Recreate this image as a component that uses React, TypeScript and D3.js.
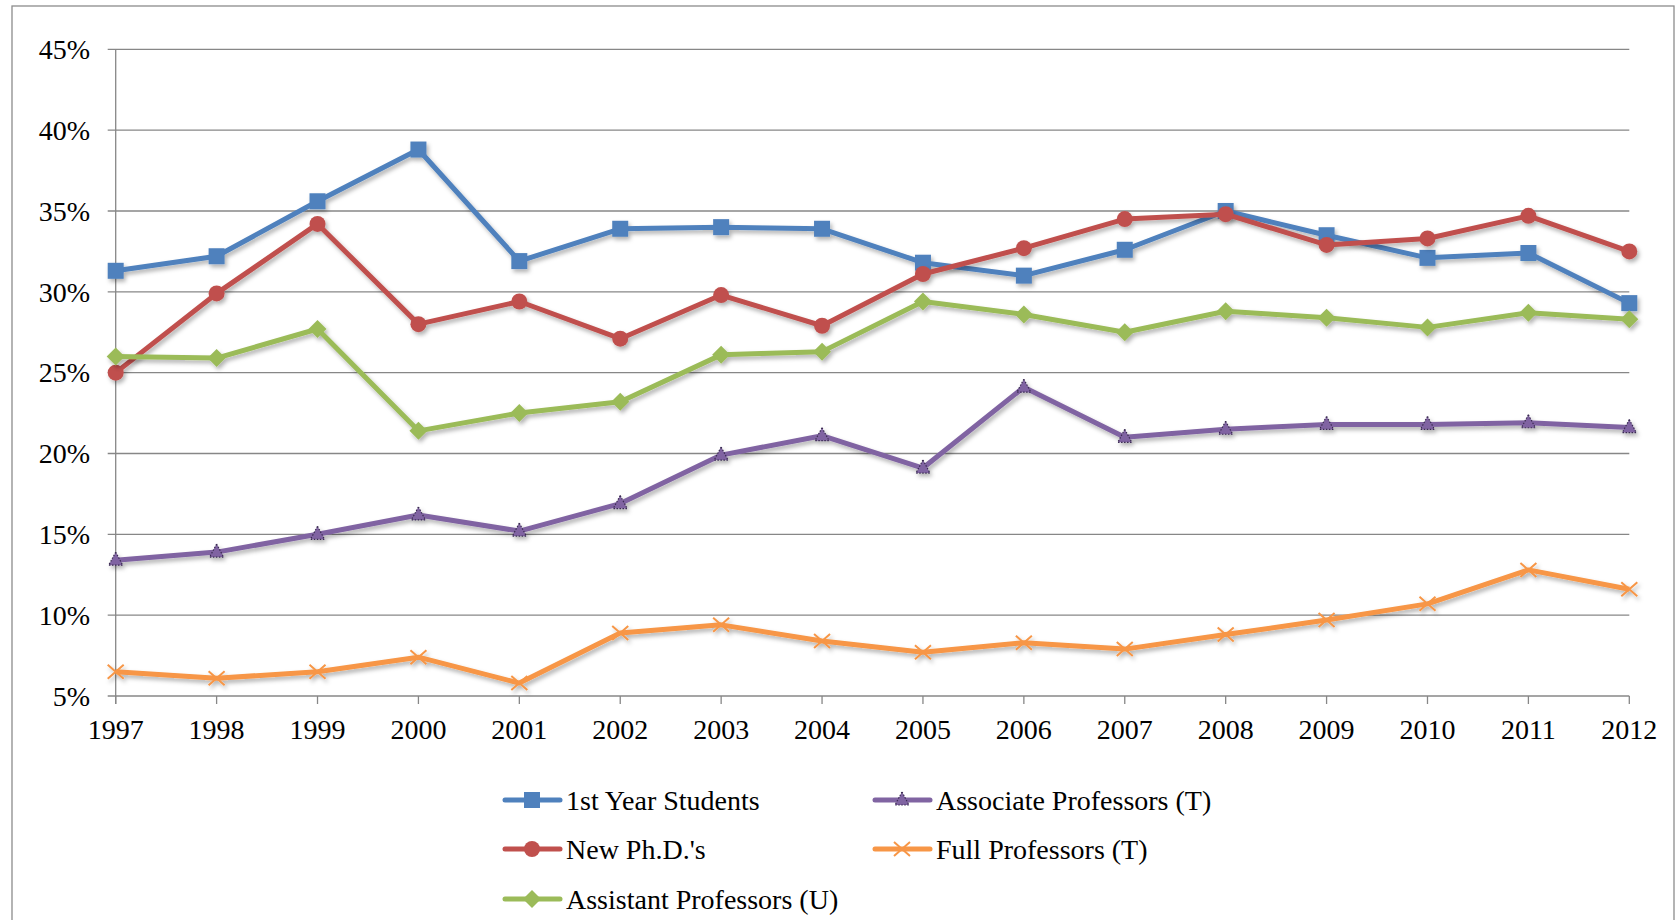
import { useMemo } from "react";
import * as d3 from "d3";

// Years on the x axis
const years = [1997, 1998, 1999, 2000, 2001, 2002, 2003, 2004, 2005, 2006, 2007, 2008, 2009, 2010, 2011, 2012];

// Percent values per series
const firstYear = [31.3, 32.2, 35.6, 38.8, 31.9, 33.9, 34.0, 33.9, 31.8, 31.0, 32.6, 35.0, 33.5, 32.1, 32.4, 29.3];
const newPhds = [25.0, 29.9, 34.2, 28.0, 29.4, 27.1, 29.8, 27.9, 31.1, 32.7, 34.5, 34.8, 32.9, 33.3, 34.7, 32.5];
const assistantU = [26.0, 25.9, 27.7, 21.4, 22.5, 23.2, 26.1, 26.3, 29.4, 28.6, 27.5, 28.8, 28.4, 27.8, 28.7, 28.3];
const associateT = [13.4, 13.9, 15.0, 16.2, 15.2, 16.9, 19.9, 21.1, 19.1, 24.1, 21.0, 21.5, 21.8, 21.8, 21.9, 21.6];
const fullT = [6.5, 6.1, 6.5, 7.4, 5.8, 8.9, 9.4, 8.4, 7.7, 8.3, 7.9, 8.8, 9.7, 10.7, 12.8, 11.6];

const yTicks = [5, 10, 15, 20, 25, 30, 35, 40, 45];

type Marker = "square" | "circle" | "diamond" | "triangle" | "x";

interface Series {
  name: string;
  values: number[];
  color: string;
  marker: Marker;
}

const series: Series[] = [
  { name: "1st Year Students", values: firstYear, color: "#4F81BD", marker: "square" },
  { name: "New Ph.D.'s", values: newPhds, color: "#C0504D", marker: "circle" },
  { name: "Assistant Professors (U)", values: assistantU, color: "#9BBB59", marker: "diamond" },
  { name: "Associate Professors (T)", values: associateT, color: "#8064A2", marker: "triangle" },
  { name: "Full Professors (T)", values: fullT, color: "#F79646", marker: "x" },
];

// legend is two columns, filled column first like Excel does it
const legendOrder = [
  ["1st Year Students", "New Ph.D.'s", "Assistant Professors (U)"],
  ["Associate Professors (T)", "Full Professors (T)"],
];

const W = 1675;
const H = 920;
const FONT = "'Liberation Serif', 'Times New Roman', serif";

function MarkerShape({ kind, color, x, y }: { kind: Marker; color: string; x: number; y: number }) {
  switch (kind) {
    case "square":
      return <rect x={x - 8} y={y - 8} width={16} height={16} fill={color} />;
    case "circle":
      return <circle cx={x} cy={y} r={8} fill={color} />;
    case "diamond":
      return <path d={`M${x},${y - 9}L${x + 9},${y}L${x},${y + 9}L${x - 9},${y}Z`} fill={color} />;
    case "triangle":
      return (
        <path
          d={`M${x},${y - 8}L${x + 7},${y + 5}L${x - 7},${y + 5}Z`}
          fill={color}
          stroke="#3b2c52"
          strokeWidth={1.2}
          strokeDasharray="1.5,1.5"
        />
      );
    case "x":
      return (
        <path
          d={`M${x - 8},${y - 7}L${x + 8},${y + 7}M${x - 8},${y + 7}L${x + 8},${y - 7}`}
          stroke={color}
          strokeWidth={2}
          fill="none"
        />
      );
  }
}

export default function App() {
  const x = useMemo(() => d3.scaleLinear().domain([1997, 2012]).range([115.7, 1629.3]), []);
  const y = useMemo(() => d3.scaleLinear().domain([5, 45]).range([696, 49.3]), []);

  const line = d3
    .line<number>()
    .x((_, i) => x(years[i]))
    .y((d) => y(d));

  const plotLeft = x(1997);
  const plotRight = x(2012);
  const plotBottom = y(5);

  const colX = [505, 875];
  const rowY = [800, 849, 899];

  return (
    <svg
      width={W}
      height={H}
      style={{ position: "absolute", left: 0, top: 0, background: "#fff" }}
      fontFamily={FONT}
    >
      <defs>
        <filter id="shadow" x="-10%" y="-10%" width="120%" height="130%">
          <feDropShadow dx={2} dy={3} stdDeviation={2} floodColor="#000" floodOpacity={0.3} />
        </filter>
      </defs>

      {/* outer chart frame */}
      <rect x={12} y={6} width={1662} height={H + 20} fill="#fff" stroke="#8c8c8c" strokeWidth={1.3} />

      {/* horizontal gridlines */}
      {yTicks.map((t) => (
        <line key={t} x1={plotLeft - 8} x2={plotRight} y1={y(t)} y2={y(t)} stroke="#878787" strokeWidth={1.3} />
      ))}

      {/* axes */}
      <line x1={plotLeft} x2={plotLeft} y1={y(45)} y2={plotBottom + 8} stroke="#878787" strokeWidth={1.3} />
      {years.map((yr) => (
        <line key={yr} x1={x(yr)} x2={x(yr)} y1={plotBottom} y2={plotBottom + 8} stroke="#878787" strokeWidth={1.3} />
      ))}

      {/* tick labels */}
      {yTicks.map((t) => (
        <text key={t} x={90} y={y(t)} dy="0.35em" textAnchor="end" fontSize={28} fill="#000">
          {t}%
        </text>
      ))}
      {years.map((yr) => (
        <text key={yr} x={x(yr)} y={739} textAnchor="middle" fontSize={28} fill="#000">
          {yr}
        </text>
      ))}

      {/* series */}
      {series.map((s) => (
        <g key={s.name} filter="url(#shadow)">
          <path d={line(s.values) || ""} fill="none" stroke={s.color} strokeWidth={5} strokeLinejoin="round" />
          {s.values.map((v, i) => (
            <MarkerShape key={i} kind={s.marker} color={s.color} x={x(years[i])} y={y(v)} />
          ))}
        </g>
      ))}

      {/* legend */}
      {legendOrder.map((col, ci) =>
        col.map((name, ri) => {
          const s = series.find((d) => d.name === name)!;
          const lx = colX[ci];
          const ly = rowY[ri];
          return (
            <g key={name}>
              <line x1={lx} x2={lx + 55} y1={ly} y2={ly} stroke={s.color} strokeWidth={5} strokeLinecap="round" />
              <MarkerShape kind={s.marker} color={s.color} x={lx + 27} y={ly} />
              <text x={lx + 61} y={ly} dy="0.35em" fontSize={28} fill="#000">
                {name}
              </text>
            </g>
          );
        })
      )}
    </svg>
  );
}
